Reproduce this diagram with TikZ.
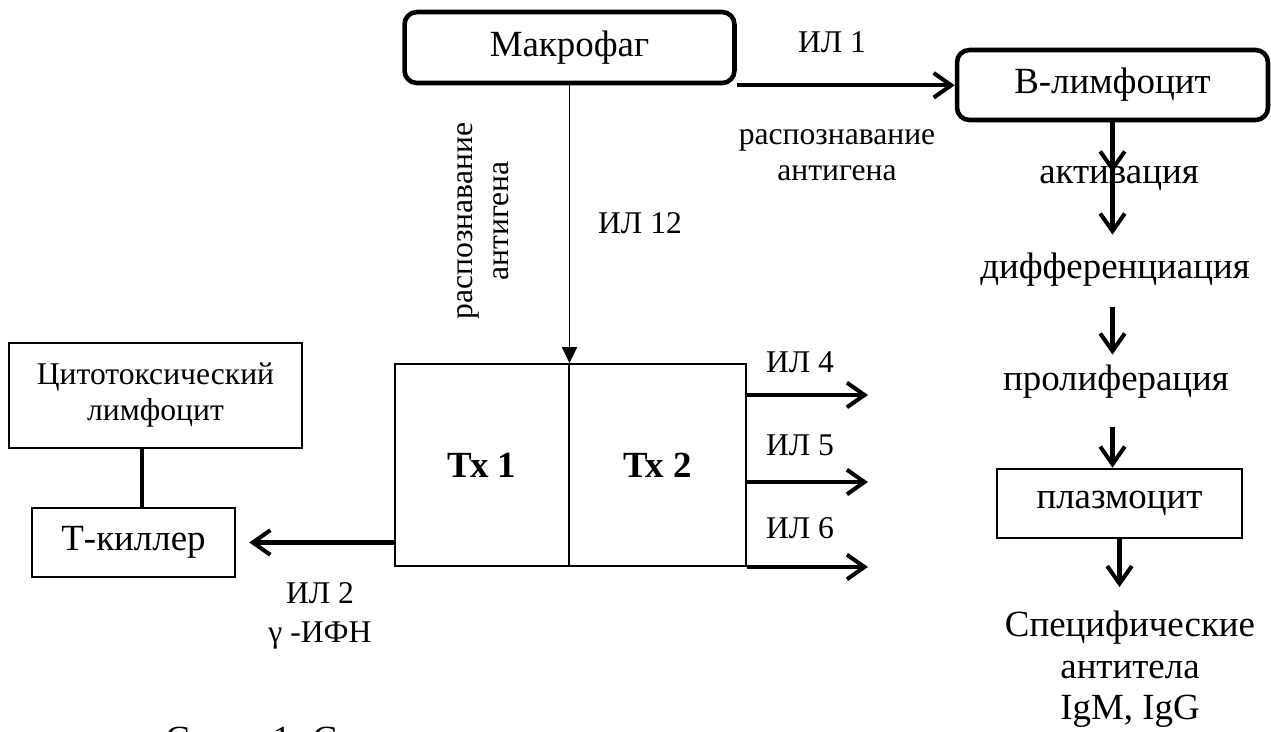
\documentclass[tikz,border=0pt]{standalone}
\usepackage{fontspec}
\setmainfont{Liberation Serif}
\usetikzlibrary{arrows.meta}
\newcommand\bigtxt{\fontsize{21}{23.5}\selectfont}
\newcommand\lbltxt{\fontsize{18}{20.5}\selectfont}
\newcommand\iltxt{\fontsize{18}{22}\selectfont}

\begin{document}
\begin{tikzpicture}[x=0.02cm, y=-0.02cm,
    rbox/.style={draw, rounded corners=7pt, line width=2.6pt, inner sep=0pt, font=\bigtxt},
    pbox/.style={draw, line width=1.5pt, inner sep=0pt},
    txbox/.style={draw, line width=1.2pt, inner sep=0pt, minimum height=4.04cm, font=\bigtxt\bfseries},
    lbl/.style={inner sep=0pt, font=\lbltxt, align=center},
    stage/.style={inner sep=0pt, font=\bigtxt, anchor=base},
    arr/.style={-{Straight Barb[length=10pt,width=14pt]}, line width=2.3pt},
    thinarr/.style={-{Triangle[length=9pt,width=8.5pt]}, line width=1.1pt}]
    \useasboundingbox[fill=white] (0,0) rectangle (1271,731);

    % cells
    \node[rbox, minimum width=6.6cm, minimum height=1.42cm] (mac) at (569.5,47.5) {Макрофаг};
    \node[rbox, minimum width=6.22cm, minimum height=1.4cm] (bly) at (1112.5,85) {В-лимфоцит};
    \node[txbox, minimum width=3.48cm] (tx1) at (482,465) {Тх 1};
    \node[txbox, minimum width=3.54cm] (tx2) at (657.5,465) {Тх 2};
    \node[pbox, minimum width=5.86cm, minimum height=2.1cm, font=\lbltxt, align=center] (cyto) at (155.5,395.5) {Цитотоксический\\лимфоцит};
    \node[pbox, minimum width=4.06cm, minimum height=1.38cm, font=\bigtxt] (tk) at (133.5,542.5) {Т-киллер};
    \node[pbox, minimum width=4.9cm, minimum height=1.38cm, font=\bigtxt] (plasma) at (1119.5,503.5) {плазмоцит};

    % labels
    \node[lbl] (il1) at (832,42) {ИЛ 1};
    \node[lbl] (rec1) at (837,155) {распознавание\\антигена};
    \node[lbl, rotate=90] (rec2) at (483,221) {распознавание\\антигена};
    \node[lbl] (il12) at (640,223) {ИЛ 12};
    \node[lbl] (il4) at (800,362) {ИЛ 4};
    \node[lbl] (il5) at (800,445) {ИЛ 5};
    \node[lbl] (il6) at (800,528) {ИЛ 6};
    \node[lbl, font=\iltxt] (il2) at (320,616) {ИЛ 2\\γ -ИФН};
    \node[stage] (act) at (1119,183) {активация};
    \node[stage] (diff) at (1115,278) {дифференциация};
    \node[stage] (prol) at (1116,390) {пролиферация};
    \node[lbl, font=\bigtxt, anchor=north] (spec) at (1130,611) {Специфические\\антитела\\IgM, IgG};
    \node[inner sep=0pt, font=\bigtxt, anchor=base west] (caption) at (165,751) {Схема 1. С};

    \coordinate (il4end) at (868,395);
    \coordinate (il5end) at (868,482);
    \coordinate (il6end) at (868,567);

    % connectors
    \draw[thinarr] (mac.south) -- (mac.south |- tx1.north);
    \draw[arr] (mac.south east) -- (mac.south east -| bly.west);
    \draw[arr, shorten >=7.4pt] (tx1.west |- tk.east) -- (tk.east);
    \draw[line width=2.3pt] ([xshift=4.8pt]cyto.south -| tk.north) -- ([xshift=4.8pt]tk.north);
    \draw[arr] (tx2.east |- il4end) -- (il4end);
    \draw[arr] (tx2.east |- il5end) -- (il5end);
    \draw[arr] (tx2.east |- il6end) -- (il6end);
    \draw[arr, shorten >=3.7pt] (bly.south) -- (bly.south |- act.mid);
    \draw[arr, shorten >=22.4pt] (bly.south) -- (bly.south |- diff.mid);
    \draw[arr, shorten <=19pt, shorten >=17.9pt] (bly.south |- diff.mid) -- (bly.south |- prol.mid);
    \draw[arr, shorten <=23.5pt] (bly.south |- prol.mid) -- (bly.south |- plasma.north);
    \draw[arr, shorten >=13.6pt] (plasma.south) -- (plasma.south |- spec.north);
\end{tikzpicture}
\end{document}
